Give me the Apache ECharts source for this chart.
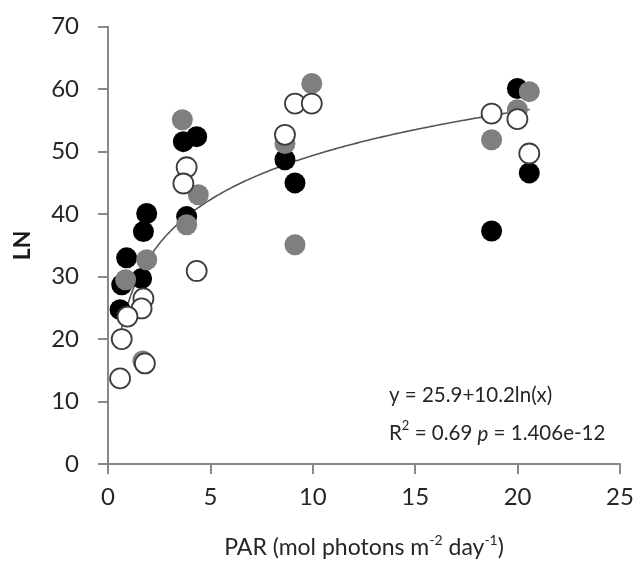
<!DOCTYPE html>
<html><head><meta charset="utf-8">
<script src="https://cdn.jsdelivr.net/npm/echarts@6/dist/echarts.min.js"></script>
<style>html,body{margin:0;padding:0;background:#fff}#c{width:640px;height:565px}</style>
</head><body><div id="c"></div>
<script>
// Data
const blackPts = [
  [0.91,33.0],[1.64,29.7],[0.67,28.7],[0.59,24.7],[1.89,40.1],[1.73,37.2],
  [3.68,51.6],[4.33,52.4],[3.84,39.6],[8.64,48.7],[9.13,45.0],
  [19.99,60.1],[20.57,46.6],[18.73,37.3]
];
const grayPts = [
  [1.89,32.7],[0.86,29.5],[1.70,16.5],[3.63,55.1],[4.41,43.1],[3.84,38.3],
  [9.95,60.9],[8.64,51.3],[9.13,35.1],[20.57,59.6],[19.99,56.7],[18.73,51.9]
];
const openPts = [
  [4.33,30.9],[1.73,26.5],[1.64,24.9],[0.95,23.6],[0.67,20.0],[1.80,16.1],[0.59,13.7],
  [3.84,47.5],[3.68,44.9],[9.13,57.7],[9.95,57.7],[8.64,52.7],
  [18.73,56.1],[19.99,55.2],[20.57,49.7]
];
// Fitted curve y = a + b ln(x), as printed on the chart, over the data's x range
const trendCoef = [25.9, 10.2];
const trendRange = [0.59, 20.6];
const xTicks = [0,5,10,15,20,25];
const yTicks = [0,10,20,30,40,50,60,70];
const eqLine1 = 'y = 25.9+10.2ln(x)';

const trend = [];
for (let x = trendRange[0]; x <= trendRange[1] + 1e-9; x += 0.05) {
  trend.push([x, trendCoef[0] + trendCoef[1] * Math.log(x)]);
}

const FONT = 'Lato';
const axisCol = '#888888';
const txtCol = '#262626';

const chart = echarts.init(document.getElementById('c'), null, {renderer:'canvas'});
chart.setOption({
  animation:false,
  backgroundColor:'#fff',
  grid:{left:108, right:20, top:26.7, bottom:101, containLabel:false},
  xAxis:{
    type:'value', min:xTicks[0], max:xTicks[xTicks.length-1], interval:5,
    axisLine:{show:true, lineStyle:{color:axisCol, width:2}},
    axisTick:{show:true, inside:false, length:10, lineStyle:{color:axisCol, width:2}},
    splitLine:{show:false},
    axisLabel:{fontFamily:FONT, fontSize:24, color:txtCol, margin:21},
    name:'{a|PAR (mol photons m}{s|-2}{a| day}{s|-1}{a|)}',
    nameLocation:'middle', nameGap:67,
    nameTextStyle:{
      rich:{
        a:{fontFamily:FONT, fontSize:23, color:txtCol, lineHeight:28, verticalAlign:'bottom'},
        s:{fontFamily:FONT, fontSize:14, color:txtCol, lineHeight:28, verticalAlign:'top', padding:[2,0,0,0]}
      }
    }
  },
  yAxis:{
    type:'value', min:yTicks[0], max:yTicks[yTicks.length-1], interval:10,
    axisLine:{show:true, lineStyle:{color:axisCol, width:2}},
    axisTick:{show:true, inside:false, length:10, lineStyle:{color:axisCol, width:2}},
    splitLine:{show:false},
    axisLabel:{fontFamily:FONT, fontSize:24, color:txtCol, margin:29},
    name:'LN', nameLocation:'middle', nameGap:74,
    nameTextStyle:{fontFamily:FONT, fontSize:23, fontWeight:'bold', color:'#1a1a1a'}
  },
  series:[
    {type:'line', data:trend, showSymbol:false, symbol:'none', smooth:false,
     lineStyle:{color:'#555555', width:1.6}, z:1, silent:true},
    {type:'scatter', data:blackPts, symbol:'circle', symbolSize:21,
     itemStyle:{color:'#000000', opacity:1}, z:2},
    {type:'scatter', data:grayPts, symbol:'circle', symbolSize:21,
     itemStyle:{color:'#7f7f7f', opacity:1}, z:3},
    {type:'scatter', data:openPts, symbol:'circle', symbolSize:20,
     itemStyle:{color:'#ffffff', borderColor:'#3c3c3c', borderWidth:1.8, opacity:1}, z:4}
  ],
  graphic:[
    {type:'text', left:389, top:385, style:{text:eqLine1, font:'20.5px Lato', fill:txtCol}},
    {type:'text', left:389, top:418, style:{
      text:'{a|R}{s|2}{a| = 0.69 }{i|p}{a| = 1.406e-12}',
      rich:{
        a:{font:'20.5px Lato', fill:txtCol, lineHeight:26, verticalAlign:'bottom'},
        s:{font:'13px Lato', fill:txtCol, lineHeight:26, verticalAlign:'top', padding:[1,0,0,0]},
        i:{font:'italic 20.5px Lato', fill:txtCol, lineHeight:26, verticalAlign:'bottom'}
      }
    }}
  ]
});
</script>
</body></html>
